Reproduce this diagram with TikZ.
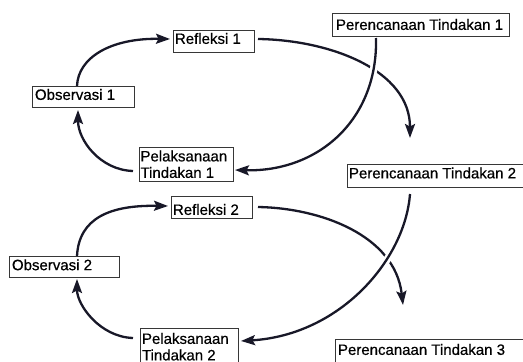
\documentclass[tikz,border=0pt]{standalone}
\usepackage{fontspec}
\newfontfamily\arialfont[FakeBold=0.5]{Liberation Sans}
\usetikzlibrary{arrows.meta,calc}
\definecolor{ink}{RGB}{24,24,40}
\definecolor{frame}{RGB}{55,55,55}
% fixed-size label boxes: width, height, top kern, left kern, text line(s)
\newcommand{\onebox}[5]{\vbox to #2pt{\kern#3pt\hbox to #1pt{\kern#4pt #5\hfil}\vss}}
\newcommand{\twobox}[6]{\vbox to #2pt{\kern#3pt\hbox to #1pt{\kern#4pt #5\hfil}\hbox to #1pt{\kern#4pt #6\hfil}\vss}}

\begin{document}
\begin{tikzpicture}[x=1pt,y=-1pt,
  lbox/.style={draw=frame, line width=0.8pt, inner sep=0pt, outer sep=0pt,
    anchor=north west, font=\arialfont\fontsize{15}{16.5}\selectfont, text=black},
  flow/.style={draw=ink, line width=2.3pt, -{Stealth[length=14pt,width=10pt,inset=2.5pt]}},
  under/.style={draw=white, line width=7.5pt}]
\useasboundingbox (0,0) rectangle (523,362);
\fill[white] (0,0) rectangle (523,362);
\clip (0,0) rectangle (523,362);

% first cycle
\node[lbox] (P1) at (332,13) {\onebox{177}{23}{6}{4}{Perencanaan Tindakan 1}};
\node[lbox] (R1) at (173,30) {\onebox{81}{22}{3}{2}{Refleksi 1}};
\node[lbox] (O1) at (32,86)  {\onebox{102}{21}{3}{3}{Observasi 1}};
\node[lbox] (L1) at (139,147) {\twobox{94}{34}{3.5}{1.5}{Pelaksanaan}{Tindakan 1}};

% second cycle
\node[lbox] (P2) at (347,164) {\onebox{190}{23}{3.5}{2}{Perencanaan Tindakan 2}};
\node[lbox] (R2) at (171,196) {\onebox{81}{22}{8}{2}{Refleksi 2}};
\node[lbox] (O2) at (9,256)  {\onebox{110}{21}{3.3}{3}{Observasi 2}};
\node[lbox] (L2) at (140,328) {\twobox{98}{40}{5}{2}{Pelaksanaan}{Tindakan 2}};
\node[lbox] (P3) at (335,339) {\onebox{200}{30}{5}{3}{Perencanaan Tindakan 3}};

% free ends of the outgoing arrows
\coordinate (A1) at (410,138);
\coordinate (A2) at (403,305);

% cycle 1 connectors
\draw[flow] ($(O1.north)+(-6,0)$) .. controls (78,58) and (110,38) .. ($(R1.west)+(-3,-2)$);
\draw[flow] ($(R1.east)+(4,-2)$) .. controls (330,40) and (410,70) .. (A1);
\draw[under, shorten >=20pt] ($(P1.south west)+(44,2)$) .. controls (378,120) and (318,172) .. ($(L1.north east)+(2,23)$);
\draw[flow] ($(P1.south west)+(44,2)$) .. controls (378,120) and (318,172) .. ($(L1.north east)+(2,23)$);
\draw[flow] ($(L1.north west)+(-6,24)$) .. controls (100,170) and (78,140) .. ($(O1.south)+(-5,3)$);

% cycle 2 connectors
\draw[flow] ($(O2.north)+(13,0)$) .. controls (79,218) and (110,205) .. ($(R2.west)+(-3,-1)$);
\draw[flow] ($(R2.east)+(6,0)$) .. controls (320,208) and (395,235) .. (A2);
\draw[under, shorten >=20pt] ($(P2.south west)+(63,7)$) .. controls (405,260) and (340,335) .. ($(L2.north east)+(3,13)$);
\draw[flow] ($(P2.south west)+(63,7)$) .. controls (405,260) and (340,335) .. ($(L2.north east)+(3,13)$);
\draw[flow] ($(L2.north west)+(-7,10)$) .. controls (100,337) and (77,305) .. ($(O2.south)+(13,2)$);
\end{tikzpicture}
\end{document}
